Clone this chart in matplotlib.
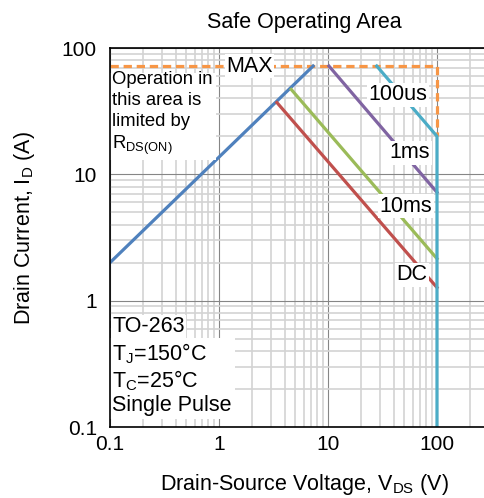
import matplotlib
matplotlib.use("Agg")
import matplotlib.pyplot as plt
from matplotlib.ticker import LogLocator, NullFormatter, FixedLocator, FixedFormatter

plt.rcParams['font.family'] = ['Liberation Sans', 'DejaVu Sans']
plt.rcParams['mathtext.fontset'] = 'custom'
plt.rcParams['mathtext.rm'] = 'Liberation Sans'
plt.rcParams['mathtext.it'] = 'Liberation Sans:italic'
plt.rcParams['mathtext.bf'] = 'Liberation Sans:bold'

# Safe operating area boundaries (V_DS in volts, I_D in amps)
rds_on_v = [0.1, 7.3]
rds_on_i = [2.0, 72.0]

max_v = [0.1, 100.0, 100.0]
max_i = [72.0, 72.0, 20.0]

pulse_100us_v = [28.0, 100.0, 100.0]
pulse_100us_i = [72.0, 20.0, 0.1]

pulse_1ms_v = [10.2, 100.0]
pulse_1ms_i = [72.0, 7.2]

pulse_10ms_v = [4.6, 100.0]
pulse_10ms_i = [47.0, 2.15]

dc_v = [3.4, 100.0]
dc_i = [37.0, 1.27]

x_ticks = [0.1, 1, 10, 100]
x_tick_labels = ["0.1", "1", "10", "100"]
y_ticks = [0.1, 1, 10, 100]
y_tick_labels = ["0.1", "1", "10", "100"]

W, H = 484, 498
fig = plt.figure(figsize=(W / 100, H / 100), dpi=100)
left_px, right_px, top_px, bottom_px = 110, 489, 48, 427
ax = fig.add_axes([left_px / W, 1 - bottom_px / H,
                   (right_px - left_px) / W, (bottom_px - top_px) / H])


def ay(py):
    """Axes-fraction y for a pixel row."""
    return (bottom_px - py) / (bottom_px - top_px)


ax.set_xscale('log')
ax.set_yscale('log')
ax.set_xlim(0.1, 300)
ax.set_ylim(0.1, 100)

ax.xaxis.set_major_locator(FixedLocator(x_ticks))
ax.xaxis.set_major_formatter(FixedFormatter(x_tick_labels))
ax.yaxis.set_major_locator(FixedLocator(y_ticks))
ax.yaxis.set_major_formatter(FixedFormatter(y_tick_labels))
ax.xaxis.set_minor_locator(LogLocator(base=10, subs=range(2, 10), numticks=20))
ax.yaxis.set_minor_locator(LogLocator(base=10, subs=range(2, 10), numticks=20))
ax.xaxis.set_minor_formatter(NullFormatter())
ax.yaxis.set_minor_formatter(NullFormatter())

ax.grid(which='minor', color='#d3d3d3', linewidth=1.2, zorder=0)
ax.grid(which='major', color='#868686', linewidth=0.8, zorder=0)
ax.set_axisbelow(True)
ax.tick_params(which='both', length=0, labelsize=15, colors='#000000')
ax.tick_params(axis='x', pad=6)
ax.tick_params(axis='y', pad=9.5)

for side in ('left', 'bottom', 'top'):
    ax.spines[side].set_color('#000000')
    ax.spines[side].set_linewidth(1.2)
    ax.spines[side].set_zorder(8)
ax.spines['right'].set_visible(False)

lw = 2.3
ax.plot(max_v, max_i, color='#F79646', lw=lw, dashes=(2.6, 1.5), zorder=3)
ax.plot(rds_on_v, rds_on_i, color='#4F81BD', lw=lw, zorder=4)
ax.plot(dc_v, dc_i, color='#C0504D', lw=lw, zorder=4)
ax.plot(pulse_10ms_v, pulse_10ms_i, color='#9BBB59', lw=lw, zorder=4)
ax.plot(pulse_1ms_v, pulse_1ms_i, color='#8064A2', lw=lw, zorder=4)
ax.plot(pulse_100us_v, pulse_100us_i, color='#4BACC6', lw=lw, zorder=5)

box = dict(facecolor='white', edgecolor='none', pad=1.0)
lab_fs = 15.5

ax.text(1.9, 72, "MAX", fontsize=lab_fs, ha='center', va='center', bbox=box, zorder=6)
ax.text(44, 42.5, "100us", fontsize=lab_fs, ha='center', va='center', bbox=box, zorder=6)
ax.text(56.5, 14.8, "1ms", fontsize=lab_fs, ha='center', va='center', bbox=box, zorder=6)
ax.text(52, 5.6, "10ms", fontsize=lab_fs, ha='center', va='center', bbox=box, zorder=6)
ax.text(59, 1.6, "DC", fontsize=lab_fs, ha='center', va='center', bbox=box, zorder=6)

ax.text(0.006, ay(71.5),
        "Operation in\nthis area is\nlimited by\nR$_{\\mathrm{DS(ON)}}$",
        transform=ax.transAxes, fontsize=13.3, ha='left', va='top',
        linespacing=1.27, bbox=dict(facecolor='white', edgecolor='none', pad=2.0),
        zorder=6)

ax.text(0.006, ay(316), "TO-263", transform=ax.transAxes, fontsize=lab_fs,
        ha='left', va='top', bbox=box, zorder=6)
ax.text(0.006, ay(341),
        "T$_{\\mathrm{J}}$=150°C\nT$_{\\mathrm{C}}$=25°C\nSingle Pulse",
        transform=ax.transAxes, fontsize=lab_fs, ha='left', va='top',
        linespacing=1.15, bbox=dict(facecolor='white', edgecolor='none', pad=2.0),
        zorder=6)

fig.text(304 / W, 1 - 28 / H, "Safe Operating Area", fontsize=15.5,
         ha='center', va='baseline')
fig.text(304 / W, 1 - 490 / H, "Drain-Source Voltage, V$_{\\mathrm{DS}}$ (V)",
         fontsize=15.5, ha='center', va='baseline')
fig.text(25 / W, 1 - 228 / H, "Drain Current, I$_{\\mathrm{D}}$ (A)",
         fontsize=15.5, ha='center', va='center', rotation=90)

fig.savefig("out.png", dpi=100)
